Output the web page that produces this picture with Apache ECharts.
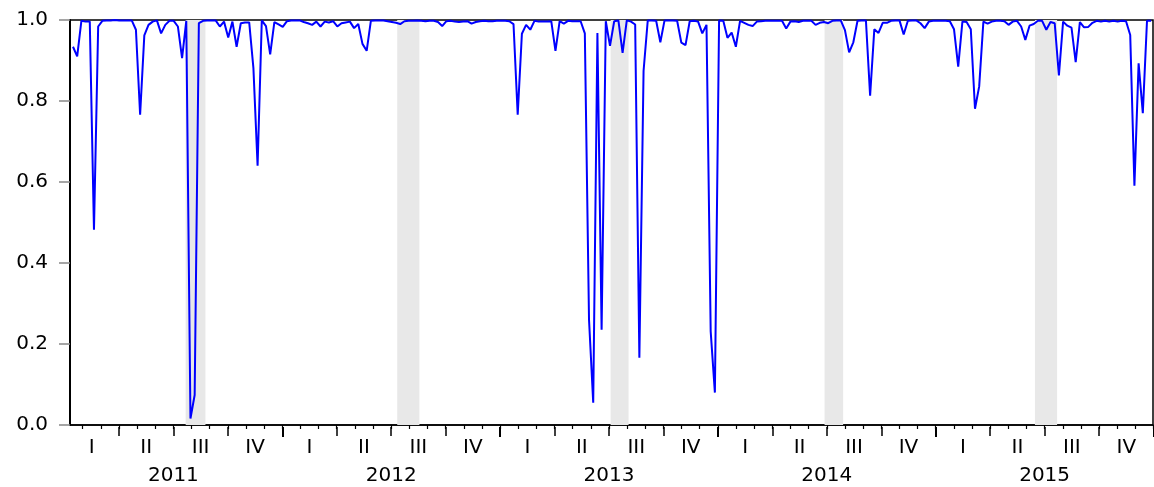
<!DOCTYPE html>
<html>
<head>
<meta charset="utf-8">
<script src="https://cdn.jsdelivr.net/npm/echarts@6/dist/echarts.min.js"></script>
<style>
  html, body { margin: 0; padding: 0; background: #fff; }
  #chart { width: 1154px; height: 487px; }
</style>
</head>
<body>
<div id="chart"></div>
<script>
// weekly observations, first one is the week of 2011-01-17
var firstWeek = Date.UTC(2011, 0, 17);
var values = [
  0.934, 0.910, 0.998, 0.996, 0.996, 0.482, 0.984, 0.998, 0.999, 0.999,
  1.000, 0.999, 0.999, 0.999, 0.999, 0.976, 0.766, 0.962, 0.988, 0.996,
  0.999, 0.967, 0.988, 0.998, 0.998, 0.984, 0.906, 0.998, 0.016, 0.074,
  0.992, 0.998, 0.999, 0.999, 0.999, 0.984, 0.996, 0.957, 0.996, 0.934,
  0.992, 0.994, 0.994, 0.882, 0.640, 0.999, 0.985, 0.915, 0.995, 0.989,
  0.983, 0.997, 0.999, 0.999, 0.999, 0.995, 0.992, 0.988, 0.996, 0.984,
  0.996, 0.994, 0.997, 0.984, 0.992, 0.994, 0.996, 0.980, 0.990, 0.941,
  0.924, 0.998, 0.999, 0.999, 0.999, 0.997, 0.995, 0.993, 0.990, 0.997,
  0.998, 0.998, 0.999, 0.998, 0.997, 0.998, 0.998, 0.995, 0.985, 0.997,
  0.998, 0.996, 0.995, 0.996, 0.997, 0.991, 0.995, 0.997, 0.998, 0.997,
  0.997, 0.998, 0.998, 0.998, 0.997, 0.990, 0.766, 0.966, 0.988, 0.976,
  0.998, 0.996, 0.996, 0.996, 0.997, 0.924, 0.997, 0.991, 0.998, 0.997,
  0.997, 0.997, 0.967, 0.260, 0.055, 0.968, 0.235, 0.997, 0.936, 0.997,
  0.999, 0.919, 0.999, 0.996, 0.989, 0.166, 0.874, 0.999, 0.999, 0.998,
  0.945, 0.999, 0.999, 0.999, 0.998, 0.944, 0.938, 0.997, 0.998, 0.996,
  0.967, 0.988, 0.231, 0.080, 0.999, 0.998, 0.956, 0.969, 0.934, 0.998,
  0.993, 0.988, 0.985, 0.996, 0.997, 0.998, 0.998, 0.998, 0.998, 0.998,
  0.979, 0.996, 0.997, 0.995, 0.998, 0.998, 0.998, 0.988, 0.993, 0.995,
  0.992, 0.998, 0.999, 0.999, 0.975, 0.920, 0.945, 0.998, 0.999, 0.999,
  0.813, 0.977, 0.968, 0.993, 0.993, 0.998, 0.999, 0.999, 0.964, 0.998,
  0.999, 0.999, 0.992, 0.980, 0.996, 0.998, 0.998, 0.998, 0.998, 0.997,
  0.977, 0.885, 0.996, 0.995, 0.977, 0.781, 0.836, 0.996, 0.991, 0.996,
  0.998, 0.998, 0.997, 0.988, 0.996, 0.998, 0.984, 0.951, 0.986, 0.990,
  0.998, 0.998, 0.976, 0.995, 0.992, 0.863, 0.996, 0.986, 0.981, 0.896,
  0.995, 0.982, 0.983, 0.993, 0.998, 0.996, 0.998, 0.996, 0.998, 0.996,
  0.998, 0.997, 0.963, 0.591, 0.893, 0.770, 0.998, 0.998
];
// grey shaded periods
var shadeStart = ['2011-07-24', '2012-07-11', '2013-07-02', '2014-06-24', '2015-06-10'];
var shadeEnd   = ['2011-08-26', '2012-08-17', '2013-08-01', '2014-07-25', '2015-07-17'];
var quarterLabels = ['I', 'II', 'III', 'IV'];
var yearLabels = ['2011', '2012', '2013', '2014', '2015'];

var DAY = 24 * 3600 * 1000;
var lastWeek = firstWeek + (values.length - 1) * 7 * DAY;

var seriesData = [];
for (var i = 0; i < values.length; i++) {
  seriesData.push([firstWeek + i * 7 * DAY, values[i]]);
}

function utc(s) {
  var p = s.split('-');
  return Date.UTC(+p[0], +p[1] - 1, +p[2]);
}
var shadeAreas = [];
for (var s = 0; s < shadeStart.length; s++) {
  shadeAreas.push([{ xAxis: utc(shadeStart[s]) }, { xAxis: utc(shadeEnd[s]) }]);
}

// tick rows: months / quarters / years
var monthCats = [], quarterCats = [];
for (var y = 0; y < yearLabels.length; y++) {
  for (var q = 0; q < 4; q++) {
    quarterCats.push(quarterLabels[q]);
    for (var m = 0; m < 3; m++) monthCats.push(yearLabels[y] + '-' + (q * 3 + m + 1));
  }
}

var FONT = 'DejaVu Sans';
var skipFirst = function (idx) { return idx > 0; };

var chart = echarts.init(document.getElementById('chart'));
chart.setOption({
  animation: false,
  backgroundColor: '#fff',
  grid: [
    { left: 70, right: 1, top: 20, bottom: 62, show: true, borderColor: '#000', borderWidth: 1.5, backgroundColor: '#fff' },
    { left: 64.5, width: 1089, top: 20, bottom: 62, show: false }
  ],
  xAxis: [
    {
      gridIndex: 0, type: 'time', position: 'bottom',
      min: firstWeek - 5 * DAY, max: lastWeek + 3 * DAY,
      axisLine: { show: true, lineStyle: { color: '#000', width: 1.5 } },
      axisTick: { show: false }, axisLabel: { show: false }, splitLine: { show: false }
    },
    {
      gridIndex: 1, type: 'category', position: 'bottom', data: monthCats, offset: 3,
      axisLine: { show: false }, axisLabel: { show: false },
      axisTick: { show: true, interval: skipFirst, length: 4, lineStyle: { color: '#000', width: 1.2 } }
    },
    {
      gridIndex: 1, type: 'category', position: 'bottom', data: quarterCats, offset: 2,
      axisLine: { show: false },
      axisTick: { show: true, interval: skipFirst, length: 9, lineStyle: { color: '#000', width: 1.5 } },
      axisLabel: { show: true, interval: 0, margin: 11, color: '#000', fontFamily: FONT, fontSize: 20 }
    },
    {
      gridIndex: 1, type: 'category', position: 'bottom', data: yearLabels, offset: 2,
      axisLine: { show: false },
      axisTick: { show: true, interval: skipFirst, length: 10, lineStyle: { color: '#000', width: 2 } },
      axisLabel: { show: true, interval: 0, margin: 39, color: '#000', fontFamily: FONT, fontSize: 20 }
    }
  ],
  yAxis: [
    {
      gridIndex: 0, type: 'value', min: 0, max: 1, interval: 0.2,
      axisLine: { show: true, lineStyle: { color: '#000', width: 2 } },
      axisTick: { show: true, length: 11, lineStyle: { color: '#888', width: 1.5 } },
      axisLabel: {
        margin: 22, color: '#000', fontFamily: FONT, fontSize: 20,
        formatter: function (v) { return v.toFixed(1); }
      },
      splitLine: { show: false }
    },
    { gridIndex: 1, type: 'value', show: false }
  ],
  series: [
    {
      // shading only
      type: 'line', xAxisIndex: 0, yAxisIndex: 0, data: [], z: 1,
      markArea: { silent: true, itemStyle: { color: '#e8e8e8' }, data: shadeAreas }
    },
    {
      type: 'line', xAxisIndex: 0, yAxisIndex: 0, z: 3,
      data: seriesData, showSymbol: false, clip: false,
      lineStyle: { color: '#0000ff', width: 2 }
    }
  ]
});
</script>
</body>
</html>
